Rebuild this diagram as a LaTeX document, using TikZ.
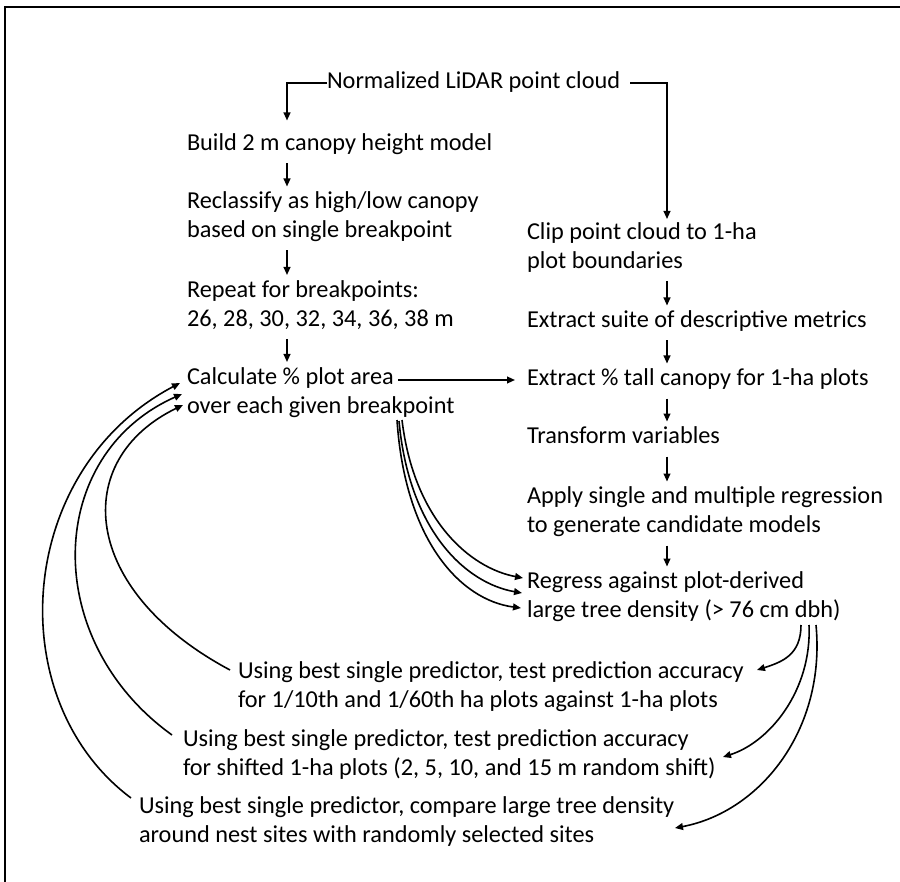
\documentclass[tikz,border=0pt]{standalone}
\usepackage{fontspec}
\setmainfont{Carlito}
\usetikzlibrary{arrows.meta,calc}
\begin{document}
\begin{tikzpicture}[x=0.5pt,y=-0.5pt,
  txt/.style={anchor=west,align=left,inner sep=0pt,outer sep=0pt,font=\fontsize{12.15}{14.5}\selectfont},
  arr/.style={line width=0.8pt,-{Triangle[length=4pt,width=3.4pt]}},
  varr/.style={arr,shorten <=2pt,shorten >=1pt},
  curv/.style={line width=0.8pt,-{Triangle[length=4pt,width=3.4pt]}},
  frame/.style={line width=1.3pt}]
\useasboundingbox (0,0) rectangle (900,882);
\draw[frame] (5,882) -- (5,7) -- (900,7);
% helper x positions
\coordinate (lx) at (287,0);
\coordinate (rx) at (667,0);
\coordinate (cx) at (398,0);
% nodes
\node[txt] (lidar) at (327,83) {\strut Normalized LiDAR point cloud};
\node[txt] (chm) at (187,145) {\strut Build 2 m canopy height model};
\node[txt] (recl) at (187,217.5) {\strut Reclassify as high/low canopy\\\strut based on single breakpoint};
\node[txt] (rep) at (187,306) {\strut Repeat for breakpoints:\\\strut 26, 28, 30, 32, 34, 36, 38 m};
\node[txt] (calc) at (187,393) {\strut Calculate \% plot area\\\strut over each given breakpoint};
\node[txt] (clip) at (527,248) {\strut Clip point cloud to 1-ha\\\strut plot boundaries};
\node[txt] (suite) at (527,322) {\strut Extract suite of descriptive metrics};
\node[txt] (tall) at (527,380) {\strut Extract \% tall canopy for 1-ha plots};
\node[txt] (trans) at (527,438) {\strut Transform variables};
\node[txt] (apply) at (527,512.5) {\strut Apply single and multiple regression\\\strut to generate candidate models};
\node[txt] (regr) at (527,597.5) {\strut Regress against plot-derived\\\strut large tree density (> 76 cm dbh)};
\node[txt] (t1) at (238,687.5) {\strut Using best single predictor, test prediction accuracy\\\strut for 1/10th and 1/60th ha plots against 1-ha plots};
\node[txt] (t2) at (183,755) {\strut Using best single predictor, test prediction accuracy\\\strut for shifted 1-ha plots (2, 5, 10, and 15 m random shift)};
\node[txt] (t3) at (139,822) {\strut Using best single predictor, compare large tree density\\\strut around nest sites with randomly selected sites};
% top connectors
\draw[arr,shorten >=5pt] (lidar.west) -| (lx |- chm.north);
\draw[arr] ([xshift=5pt]lidar.east) -| (rx |- clip.north);
% left column
\draw[varr] (chm.south -| lx) -- (recl.north -| lx);
\draw[varr] (recl.south -| lx) -- (rep.north -| lx);
\draw[varr] (rep.south -| lx) -- (calc.north -| lx);
% right column
\draw[varr] (clip.south -| rx) -- (suite.north -| rx);
\draw[varr] (suite.south -| rx) -- (tall.north -| rx);
\draw[varr] (tall.south -| rx) -- (trans.north -| rx);
\draw[varr] (trans.south -| rx) -- (apply.north -| rx);
\draw[varr] (apply.south -| rx) -- (regr.north -| rx);
% calc -> tall
\draw[arr,shorten >=6pt] (cx |- tall.west) -- (tall.west);
% calc -> regress (three curves)
\draw[curv] ($(calc.west)+(210,27)$) .. controls +(8,120) and +(-61,-8) .. ($(regr.west)+(-6,10.5)$);
\draw[curv] ($(calc.west)+(212,28)$) .. controls +(10,109) and +(-57,-10) .. ($(regr.west)+(-5,-4.5)$);
\draw[curv] ($(calc.west)+(215,27)$) .. controls +(12,100) and +(-53,-10) .. ($(regr.west)+(-4,-19.5)$);
% regress -> bottom tests
\draw[curv] ($(regr.west)+(274,27.5)$) .. controls +(0,30) and +(25,-8) .. ($(t1.west)+(519,-17.5)$);
\draw[curv] ($(regr.west)+(282,27.5)$) .. controls +(3,65) and +(47,-15) .. ($(t2.west)+(540,2)$);
\draw[curv] ($(regr.west)+(289,27.5)$) .. controls +(10,105) and +(85,-16) .. ($(t3.west)+(536,6)$);
% bottom tests -> calc (feedback)
\draw[curv] ($(t1.west)+(-8,-17.5)$) .. controls +(-150,-80) and +(-113,55) .. ($(calc.west)+(-4,12)$);
\draw[curv] ($(t2.west)+(-11,-20)$) .. controls +(-132,-95) and +(-137,61) .. ($(calc.west)+(-5,1)$);
\draw[curv] ($(t3.west)+(-8,-24)$) .. controls +(-131,-98) and +(-165,87) .. ($(calc.west)+(-7,-10)$);
\end{tikzpicture}
\end{document}
